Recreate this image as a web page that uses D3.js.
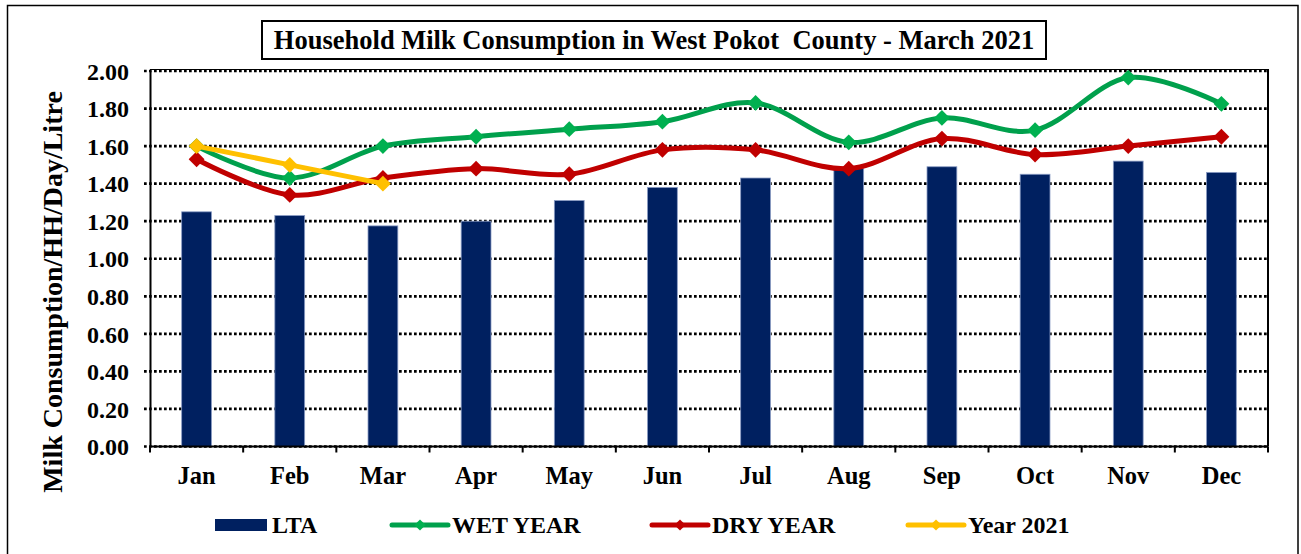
<!DOCTYPE html>
<html>
<head>
<meta charset="utf-8">
<script src="https://cdn.jsdelivr.net/npm/d3@7"></script>
<style>
  html, body { margin: 0; padding: 0; background: #fff; }
  svg { display: block; font-family: "Liberation Serif", "Times New Roman", serif; font-weight: bold; }
</style>
</head>
<body>
<svg id="chart" width="1301" height="554"></svg>
<script>
// Monthly household milk consumption, litres per household per day
const months = ["Jan", "Feb", "Mar", "Apr", "May", "Jun", "Jul", "Aug", "Sep", "Oct", "Nov", "Dec"];
const lta     = [1.25, 1.23, 1.175, 1.20, 1.31, 1.38, 1.43, 1.48, 1.49, 1.45, 1.52, 1.46];
const wetYear = [1.60, 1.43, 1.60, 1.65, 1.69, 1.73, 1.83, 1.62, 1.75, 1.685, 1.965, 1.825];
const dryYear = [1.53, 1.34, 1.43, 1.48, 1.45, 1.58, 1.58, 1.48, 1.64, 1.555, 1.60, 1.65];
const year2021 = [1.60, 1.50, 1.40];
const yTicks = [0, 0.2, 0.4, 0.6, 0.8, 1.0, 1.2, 1.4, 1.6, 1.8, 2.0];

const titleText = "Household Milk Consumption in West Pokot  County - March 2021";
const yTitle = "Milk Consumption/HH/Day/Litre";

const svg = d3.select("#chart");
const plot = { left: 150, right: 1268, top: 71, bottom: 446.5 };

const x = d3.scaleBand().domain(months).range([plot.left, plot.right]).paddingInner(0.68).paddingOuter(0.34);
const xc = m => x(m) + x.bandwidth() / 2;
const y = d3.scaleLinear().domain([0, 2]).range([plot.bottom, plot.top]);

// outer chart frame
svg.append("rect")
  .attr("x", 7.5).attr("y", 5.5).attr("width", 1290.5).attr("height", 560)
  .attr("fill", "none").attr("stroke", "#000").attr("stroke-width", 1.5);

// title box
const titleG = svg.append("g");
titleG.append("rect")
  .attr("x", 262).attr("y", 21).attr("width", 784).attr("height", 38)
  .attr("fill", "#fff").attr("stroke", "#000").attr("stroke-width", 2);
titleG.append("text")
  .attr("x", 654).attr("y", 49)
  .attr("text-anchor", "middle")
  .style("white-space", "pre")
  .attr("font-size", 26.5)
  .text(titleText);

// dotted horizontal gridlines (reaching left past the axis as tick marks)
svg.append("g").selectAll("line").data(yTicks).join("line")
  .attr("x1", plot.left - 6).attr("x2", plot.right)
  .attr("y1", d => y(d)).attr("y2", d => y(d))
  .attr("stroke", "#000").attr("stroke-width", 2.7)
  .attr("stroke-dasharray", "2.7,2.3");

// plot frame: thin top, solid right
svg.append("line").attr("x1", plot.left).attr("x2", plot.right).attr("y1", plot.top - 1.5).attr("y2", plot.top - 1.5)
  .attr("stroke", "#000").attr("stroke-width", 1);
svg.append("line").attr("x1", plot.right).attr("x2", plot.right).attr("y1", plot.top - 2).attr("y2", plot.bottom)
  .attr("stroke", "#000").attr("stroke-width", 2);

// LTA bars
svg.append("g").selectAll("rect").data(months).join("rect")
  .attr("x", m => x(m))
  .attr("y", (m, i) => y(lta[i]))
  .attr("width", x.bandwidth())
  .attr("height", (m, i) => y(0) - y(lta[i]))
  .attr("fill", "#002060")
  .attr("stroke", "#8a9cc4").attr("stroke-width", 0.8);

// y axis
const yAxis = d3.axisLeft(y).tickValues(yTicks).tickFormat(d3.format(".2f")).tickSize(0).tickPadding(21);
const yg = svg.append("g").attr("transform", `translate(${plot.left},0)`).call(yAxis);
yg.select(".domain").attr("stroke", "#000").attr("stroke-width", 2);
yg.selectAll("text").attr("font-size", 24).attr("font-family", "Liberation Serif, serif")
  .attr("font-weight", "bold").attr("fill", "#000").attr("dy", "0.34em");

// x axis with boundary ticks
const xg = svg.append("g").attr("transform", `translate(0,${plot.bottom})`);
xg.append("line").attr("x1", plot.left).attr("x2", plot.right).attr("stroke", "#000").attr("stroke-width", 2);
const bounds = d3.range(13).map(i => plot.left + i * x.step());
xg.selectAll("line.tk").data(bounds).join("line").attr("class", "tk")
  .attr("x1", d => d).attr("x2", d => d).attr("y1", 0).attr("y2", 6)
  .attr("stroke", "#000").attr("stroke-width", 2);
xg.selectAll("text").data(months).join("text")
  .attr("x", m => xc(m)).attr("y", 37)
  .attr("text-anchor", "middle").attr("font-size", 24.5)
  .text(d => d);

// y axis title
svg.append("text")
  .attr("transform", "translate(62,292) rotate(-90)")
  .attr("text-anchor", "middle").attr("font-size", 28)
  .text(yTitle);

// line series
const diamond = d3.symbol().type(d3.symbolDiamond2);
function drawSeries(values, lineColor, markerColor, curve) {
  const g = svg.append("g");
  const pts = values.map((v, i) => [xc(months[i]), y(v)]);
  g.append("path")
    .attr("d", d3.line().curve(curve)(pts))
    .attr("fill", "none").attr("stroke", lineColor)
    .attr("stroke-width", 5).attr("stroke-linejoin", "round").attr("stroke-linecap", "round");
  g.selectAll("path.mk").data(pts).join("path").attr("class", "mk")
    .attr("transform", d => `translate(${d[0]},${d[1]})`)
    .attr("d", diamond.size(160)())
    .attr("fill", markerColor);
}
drawSeries(wetYear, "#00a04c", "#00b050", d3.curveCardinal.tension(0));
drawSeries(dryYear, "#c00000", "#c00000", d3.curveCardinal.tension(0));
drawSeries(year2021, "#ffc000", "#ffc000", d3.curveLinear);

// legend
const legendItems = [
  { label: "LTA", type: "bar", color: "#002060", x: 215 },
  { label: "WET YEAR", type: "line", color: "#00a04c", marker: "#00b050", x: 392 },
  { label: "DRY YEAR", type: "line", color: "#c00000", marker: "#c00000", x: 652 },
  { label: "Year 2021", type: "line", color: "#ffc000", marker: "#ffc000", x: 908 }
];
const lg = svg.append("g");
legendItems.forEach(it => {
  const ly = 525;
  if (it.type === "bar") {
    lg.append("rect").attr("x", it.x).attr("y", ly - 6).attr("width", 52).attr("height", 12).attr("fill", it.color);
  } else {
    lg.append("line").attr("x1", it.x).attr("x2", it.x + 56).attr("y1", ly).attr("y2", ly)
      .attr("stroke", it.color).attr("stroke-width", 5).attr("stroke-linecap", "round");
    lg.append("path").attr("transform", `translate(${it.x + 28},${ly})`)
      .attr("d", diamond.size(80)()).attr("fill", it.marker);
  }
  lg.append("text").attr("x", it.x + (it.type === "bar" ? 57 : 60)).attr("y", ly + 8)
    .attr("font-size", 24).text(it.label);
});
</script>
</body>
</html>
